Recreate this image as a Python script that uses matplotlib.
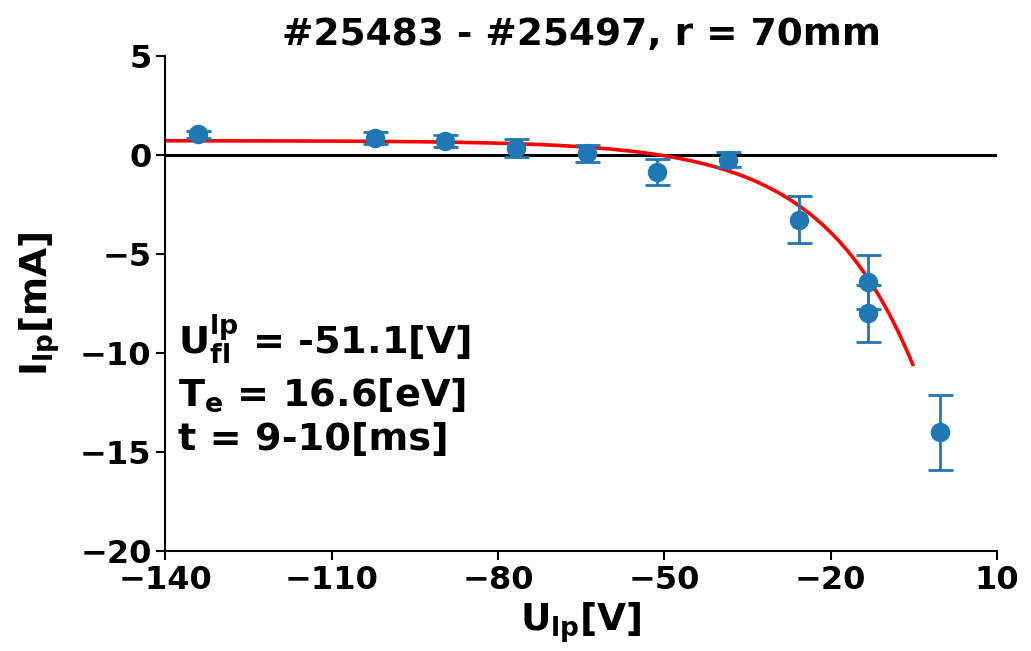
import numpy as np
import matplotlib
matplotlib.use("Agg")
import matplotlib.pyplot as plt

# ---- data ----
u_meas = [-134.2, -102.2, -89.6, -76.8, -64.0, -51.3, -38.5, -25.8, -13.2, -13.2, -0.3]
i_meas = [1.03, 0.86, 0.69, 0.35, 0.07, -0.88, -0.24, -3.27, -6.41, -8.01, -14.0]
i_err = [0.19, 0.30, 0.29, 0.44, 0.42, 0.67, 0.39, 1.19, 1.36, 1.45, 1.89]

# fit parameters (I = Isat * (1 - exp((U - Ufl)/Te)))
U_fl = -51.1
T_e = 16.6
I_sat = 0.711
fit_range = (-140, -5.2)

title = "#25483 - #25497, r = 70mm"
xticks = [-140, -110, -80, -50, -20, 10]
yticks = [-20, -15, -10, -5, 0, 5]

plt.rcParams['font.family'] = ['DejaVu Sans']
plt.rcParams['font.weight'] = 'bold'
plt.rcParams['mathtext.fontset'] = 'dejavusans'
plt.rcParams['mathtext.default'] = 'bf'

fig = plt.figure(figsize=(10.31, 6.51), dpi=100)
ax = fig.add_axes([0.1605, 0.1536, 0.8065, 0.7608])

ax.axhline(0, color='black', lw=2.2, zorder=1)

u_fit = np.linspace(fit_range[0], fit_range[1], 300)
i_fit = I_sat * (1 - np.exp((u_fit - U_fl) / T_e))
ax.plot(u_fit, i_fit, color='red', lw=2.6, zorder=2)

ax.errorbar(u_meas, i_meas, yerr=i_err, fmt='o', color='#1f77b4', ms=13,
            elinewidth=2, capsize=9, capthick=2, zorder=3)

ax.set_xlim(-140, 10)
ax.set_ylim(-20, 5)
ax.set_xticks(xticks)
ax.set_yticks(yticks)
ax.tick_params(labelsize=23, length=6.5, width=1.5)
for lab in ax.get_xticklabels() + ax.get_yticklabels():
    lab.set_fontweight('bold')

for s in ['top', 'right']:
    ax.spines[s].set_visible(False)
for s in ['left', 'bottom']:
    ax.spines[s].set_linewidth(1.5)

ax.set_title(title, fontsize=27, fontweight='bold', pad=8)
ax.set_xlabel(r'$\mathbf{U_{lp}}$[V]', fontsize=27, fontweight='bold', labelpad=3)
ax.set_ylabel(r'$\mathbf{I_{lp}}$[mA]', fontsize=27, fontweight='bold', labelpad=13)

ax.text(-137.7, -10.08, r'$\mathbf{U^{lp}_{fl}}$ = -51.1[V]', fontsize=27.5,
        fontweight='bold', va='baseline', ha='left')
ax.text(-137.7, -12.66, r'$\mathbf{T_{e}}$ = 16.6[eV]', fontsize=27.5,
        fontweight='bold', va='baseline', ha='left')
ax.text(-137.7, -14.88, 't = 9-10[ms]', fontsize=27.5,
        fontweight='bold', va='baseline', ha='left')

fig.savefig('out.png', dpi=100)
